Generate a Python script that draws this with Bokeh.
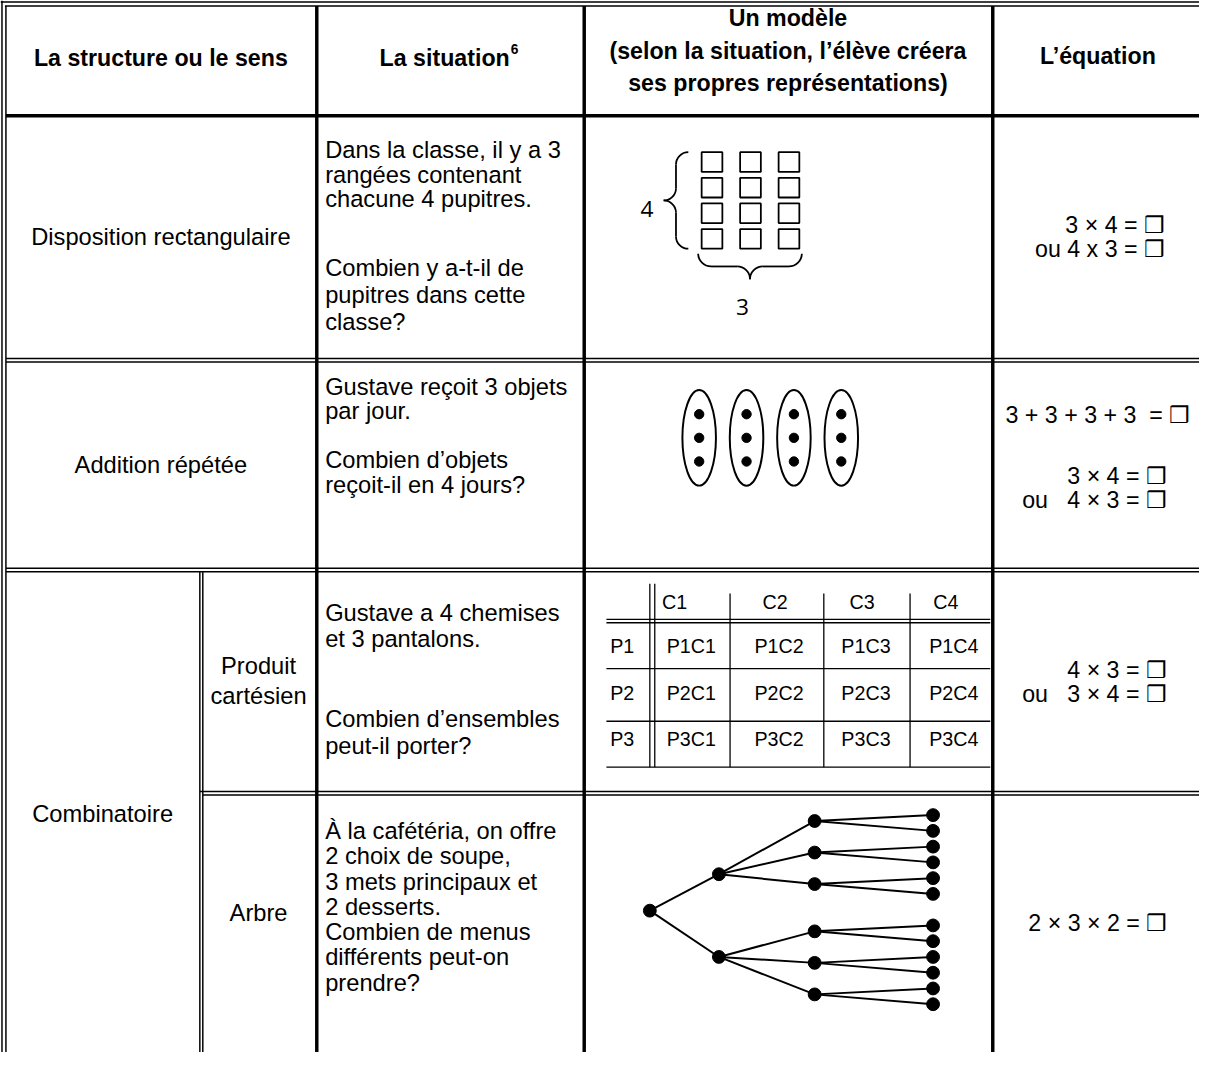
from bokeh.plotting import figure
from bokeh.models import Range1d
from bokeh.embed import file_html
from bokeh.resources import INLINE
from bokeh.core.properties import value
import numpy as np

# ------------------------------------------------------------------ data
header_structure = "La structure ou le sens"
header_situation = "La situation"
header_situation_note = "6"
header_model = ["Un modèle", "(selon la situation, l’élève créera", "ses propres représentations)"]
header_equation = "L’équation"

structure_rect = "Disposition rectangulaire"
structure_add = "Addition répétée"
structure_comb = "Combinatoire"
sub_cart = ["Produit", "cartésien"]
sub_tree = ["Arbre"]

situation_rect = ["Dans la classe, il y a 3", "rangées contenant", "chacune 4 pupitres.",
                  "Combien y a-t-il de", "pupitres dans cette", "classe?"]
situation_add = ["Gustave reçoit 3 objets", "par jour.", "Combien d’objets", "reçoit-il en 4 jours?"]
situation_cart = ["Gustave a 4 chemises", "et 3 pantalons.", "Combien d’ensembles", "peut-il porter?"]
situation_tree = ["À la cafétéria, on offre", "2 choix de soupe,", "3 mets principaux et",
                  "2 desserts.", "Combien de menus", "différents peut-on", "prendre?"]

eq_rect = ["3 × 4 = ❒", "ou 4 x 3 = ❒"]
eq_add = ["3 + 3 + 3 + 3  = ❒", "3 × 4 = ❒", "ou   4 × 3 = ❒"]
eq_cart = ["4 × 3 = ❒", "ou   3 × 4 = ❒"]
eq_tree = ["2 × 3 × 2 = ❒"]

array_rows = 4          # desks per row
array_cols = 3          # rows of desks
array_row_label = "4"
array_col_label = "3"

groups = 4              # days
objects_per_group = 3   # objects per day

shirts = ["C1", "C2", "C3", "C4"]
pants = ["P1", "P2", "P3"]

tree_branching = [2, 3, 2]   # soupes, mets, desserts

# ------------------------------------------------------------------ layout
W_REF, H_REF = 1215, 1068
FIG_W, FIG_H = 1199, 1052
S = FIG_W / W_REF
FONT = "Liberation Sans"

p = figure(width=FIG_W, height=FIG_H, x_range=Range1d(0, W_REF), y_range=Range1d(H_REF, 0),
           output_backend="svg", toolbar_location=None, min_border=0,
           x_axis_type=None, y_axis_type=None)
p.grid.visible = False
p.outline_line_color = None
p.background_fill_color = "white"
p.border_fill_color = "white"


def txt(x, y, s, size, bold=False, align="left", font=FONT):
    p.text(x=[x], y=[y], text=[s], text_font=value(font),
           text_font_size=f"{size * S:.1f}px",
           text_font_style="bold" if bold else "normal",
           text_align=align, text_baseline="middle", text_color="black")


segs = {"x0": [], "y0": [], "x1": [], "y1": [], "w": []}


def seg(x0, y0, x1, y1, w):
    segs["x0"].append(x0); segs["y0"].append(y0)
    segs["x1"].append(x1); segs["y1"].append(y1)
    segs["w"].append(w * S)


THICK = 3.5
THIN = 1.5

# column and row boundaries
X_L1, X_L2 = 1.5, 5.5
X_C1, X_C2, X_C3 = 320.5, 591.5, 1005.5
X_SUB1, X_SUB2 = 202, 205
Y_T1, Y_T2 = 1.5, 5.5
Y_HEAD = 117
ROW_DBL = [(363.5, 367), (576.5, 580)]
ROW_SUB_DBL = (803, 806.5)

# outer double borders
seg(0, Y_T1, W_REF, Y_T1, THIN)
seg(X_L2 - 1, Y_T2, W_REF, Y_T2, THIN)
seg(X_L1, 0, X_L1, H_REF, THIN)
seg(X_L2, Y_T2, X_L2, H_REF, THIN)
# header bottom
seg(X_L2, Y_HEAD, W_REF, Y_HEAD, THICK)
# thick column lines
for xc in (X_C1, X_C2, X_C3):
    seg(xc, Y_T2, xc, H_REF, THICK)
# row double lines
for ya, yb in ROW_DBL:
    seg(X_L2, ya, W_REF, ya, THIN)
    seg(X_L2, yb, W_REF, yb, THIN)
seg(X_SUB1, ROW_SUB_DBL[0], W_REF, ROW_SUB_DBL[0], THIN)
seg(X_SUB2, ROW_SUB_DBL[1], W_REF, ROW_SUB_DBL[1], THIN)
# combinatoire inner double vertical
seg(X_SUB1, ROW_DBL[1][1], X_SUB1, H_REF, THIN)
seg(X_SUB2, ROW_DBL[1][1], X_SUB2, H_REF, THIN)

BODY = 24
HEAD = 23.5
EQ = 23.5

# ---------------- header
txt(162.5, 58, header_structure, HEAD, bold=True, align="center")
txt(516, 58, header_situation, HEAD, bold=True, align="right")
txt(517, 49, header_situation_note, 14, bold=True, align="left")
for yy, s in zip([18, 51, 84], header_model):
    txt(798, yy, s, HEAD, bold=True, align="center")
txt(1112, 56, header_equation, HEAD, bold=True, align="center")

# ---------------- column 1
txt(162.5, 240, structure_rect, BODY, align="center")
txt(162.5, 472, structure_add, BODY, align="center")
txt(103.5, 826, structure_comb, BODY, align="center")
for yy, s in zip([676, 706], sub_cart):
    txt(261.5, yy, s, BODY, align="center")
txt(261.5, 926, sub_tree[0], BODY, align="center")

# ---------------- situations
SX = 329
for yy, s in zip([152, 177, 202, 272, 299, 326], situation_rect):
    txt(SX, yy, s, BODY)
for yy, s in zip([392, 417, 466, 492], situation_add):
    txt(SX, yy, s, BODY)
for yy, s in zip([622, 648, 729, 757], situation_cart):
    txt(SX, yy, s, BODY)
for i, s in enumerate(situation_tree):
    txt(SX, 843 + 25.7 * i, s, BODY)


def nb(s):
    return s.replace(" ", "\u00a0")


# ---------------- equations
txt(1180, 228, nb(eq_rect[0]), EQ, align="right")
txt(1180, 252, nb(eq_rect[1]), EQ, align="right")
txt(1112, 421, nb(eq_add[0]), EQ, align="center")
txt(1182, 483, nb(eq_add[1]), EQ, align="right")
txt(1182, 507, nb(eq_add[2]), EQ, align="right")
txt(1182, 680, nb(eq_cart[0]), EQ, align="right")
txt(1182, 704, nb(eq_cart[1]), EQ, align="right")
txt(1112, 937, nb(eq_tree[0]), EQ, align="center")

# ---------------- model 1 : rectangular array
ARR_X0, ARR_DX = 721, 39
ARR_Y0, ARR_DY = 164, 26
SQ_W, SQ_H = 21, 20
cx = [ARR_X0 + ARR_DX * j for j in range(array_cols) for i in range(array_rows)]
cy = [ARR_Y0 + ARR_DY * i for j in range(array_cols) for i in range(array_rows)]
p.quad(left=[c - SQ_W / 2 for c in cx], right=[c + SQ_W / 2 for c in cx],
       top=[c - SQ_H / 2 for c in cy], bottom=[c + SQ_H / 2 for c in cy],
       fill_color="white", line_color="black", line_width=1.8 * S)


def brace(u0, v0, L, D, to_xy):
    """Curly brace in local (u along, v toward tip) coords."""
    h = D / 2.0
    r = min(h, L / 3.0)
    curves = []
    for sgn in (-1, 1):
        curves.append(((sgn * L, 0), (sgn * L, 0.55 * h), (sgn * (L - 0.45 * r), h), (sgn * (L - r), h)))
        curves.append(((sgn * r, h), (sgn * 0.45 * r, h), (0, h + 0.45 * (D - h)), (0, D)))
        seg(*to_xy(u0, v0, sgn * (L - r), h), *to_xy(u0, v0, sgn * r, h), 1.8)
    for c in curves:
        (a, b, c1, c2) = [to_xy(u0, v0, *pt) for pt in c]
        p.bezier(x0=[a[0]], y0=[a[1]], x1=[c2[0]], y1=[c2[1]],
                 cx0=[b[0]], cy0=[b[1]], cx1=[c1[0]], cy1=[c1[1]],
                 line_color="black", line_width=1.8 * S)


left_top = ARR_Y0 - SQ_H / 2
left_bot = ARR_Y0 + ARR_DY * (array_rows - 1) + SQ_H / 2
bx = ARR_X0 - SQ_W / 2 - 13.5
brace((left_top + left_bot) / 2, bx, (left_bot - left_top) / 2, 25,
      lambda u0, v0, u, v: (v0 - v, u0 + u))
bot_left = ARR_X0 - SQ_W / 2 - 3.5
bot_right = ARR_X0 + ARR_DX * (array_cols - 1) + SQ_W / 2 + 2.5
by = left_bot + 5
brace((bot_left + bot_right) / 2, by, (bot_right - bot_left) / 2, 26,
      lambda u0, v0, u, v: (u0 + u, v0 + v))
txt(655, 212, array_row_label, 23, align="center", font="Open Sans")
txt(752, 311, array_col_label, 23, align="center", font="Open Sans")

# ---------------- model 2 : groups
GX0, GDX, GY = 708, 48, 444
gx = [GX0 + GDX * g for g in range(groups)]
p.ellipse(x=gx, y=[GY] * groups, width=34 * S, height=97 * S,
          width_units="screen", height_units="screen",
          fill_color=None, line_color="black", line_width=2 * S)
dx = [GX0 + GDX * g for g in range(groups) for k in range(objects_per_group)]
dy = [GY + 24 * (k - (objects_per_group - 1) / 2) for g in range(groups) for k in range(objects_per_group)]
p.scatter(x=dx, y=dy, size=9.5 * S, marker="circle", fill_color="black", line_color="black")

# ---------------- model 3 : cartesian product table
T_L, T_R = 614, 1003
T_TOP = 592
T_HDR_Y = 611
T_DBL = (628.3, 631.7)
ROW_Y = [655, 703, 750]
ROW_LINES = [678.3, 731.7, 778.3]
LABEL_X = 630
DBL_X = (658, 663)
SEP_X = [739.3, 834.3, 921.7]
HDR_X = [683, 785, 873, 958]
CELL_X = [700, 789, 877, 966]
TS = 20

seg(DBL_X[0], T_TOP, DBL_X[0], ROW_LINES[-1], 1.3)
seg(DBL_X[1], T_TOP, DBL_X[1], ROW_LINES[-1], 1.3)
for sx in SEP_X:
    seg(sx, 602, sx, ROW_LINES[-1], 1.3)
seg(T_L, T_DBL[0], T_R, T_DBL[0], 1.3)
seg(T_L, T_DBL[1], T_R, T_DBL[1], 1.3)
for yl in ROW_LINES:
    seg(T_L, yl, T_R, yl, 1.3)
for x, c in zip(HDR_X, shirts):
    txt(x, T_HDR_Y, c, TS, align="center")
for yr, pp in zip(ROW_Y, pants):
    txt(LABEL_X, yr, pp, TS, align="center")
    for x, c in zip(CELL_X, shirts):
        txt(x, yr, pp + c, TS, align="center")

# ---------------- model 4 : tree
LEVEL_X = [658, 728, 825, 945]
ROOT_Y = 924
L1_SPREAD, L1_SHIFT = 84, 5
L2_SPACING = 32
L2_SHIFT = [-22, 6]
L3_SPACING, L3_SHIFT = 16, 2

n1 = tree_branching[0]
l1 = [ROOT_Y + L1_SHIFT + L1_SPREAD * (i - (n1 - 1) / 2) for i in range(n1)]
for y in l1:
    seg(LEVEL_X[0], ROOT_Y, LEVEL_X[1], y, 2)
n2 = tree_branching[1]
l2 = []
for i, y in enumerate(l1):
    for j in range(n2):
        yy = y + L2_SHIFT[i % len(L2_SHIFT)] + L2_SPACING * (j - (n2 - 1) / 2)
        l2.append(yy)
        seg(LEVEL_X[1], y, LEVEL_X[2], yy, 2)
n3 = tree_branching[2]
l3 = []
for y in l2:
    for k in range(n3):
        yy = y + L3_SHIFT + L3_SPACING * (k - (n3 - 1) / 2)
        l3.append(yy)
        seg(LEVEL_X[2], y, LEVEL_X[3], yy, 2)

# draw all line segments now
p.segment(x0=segs["x0"], y0=segs["y0"], x1=segs["x1"], y1=segs["y1"],
          line_color="black", line_width=segs["w"])

tx = [LEVEL_X[0]] + [LEVEL_X[1]] * len(l1) + [LEVEL_X[2]] * len(l2) + [LEVEL_X[3]] * len(l3)
ty = [ROOT_Y] + l1 + l2 + l3
p.scatter(x=tx, y=ty, size=13 * S, marker="circle", fill_color="black", line_color="black")

open("out.html", "w").write(file_html(p, INLINE))
